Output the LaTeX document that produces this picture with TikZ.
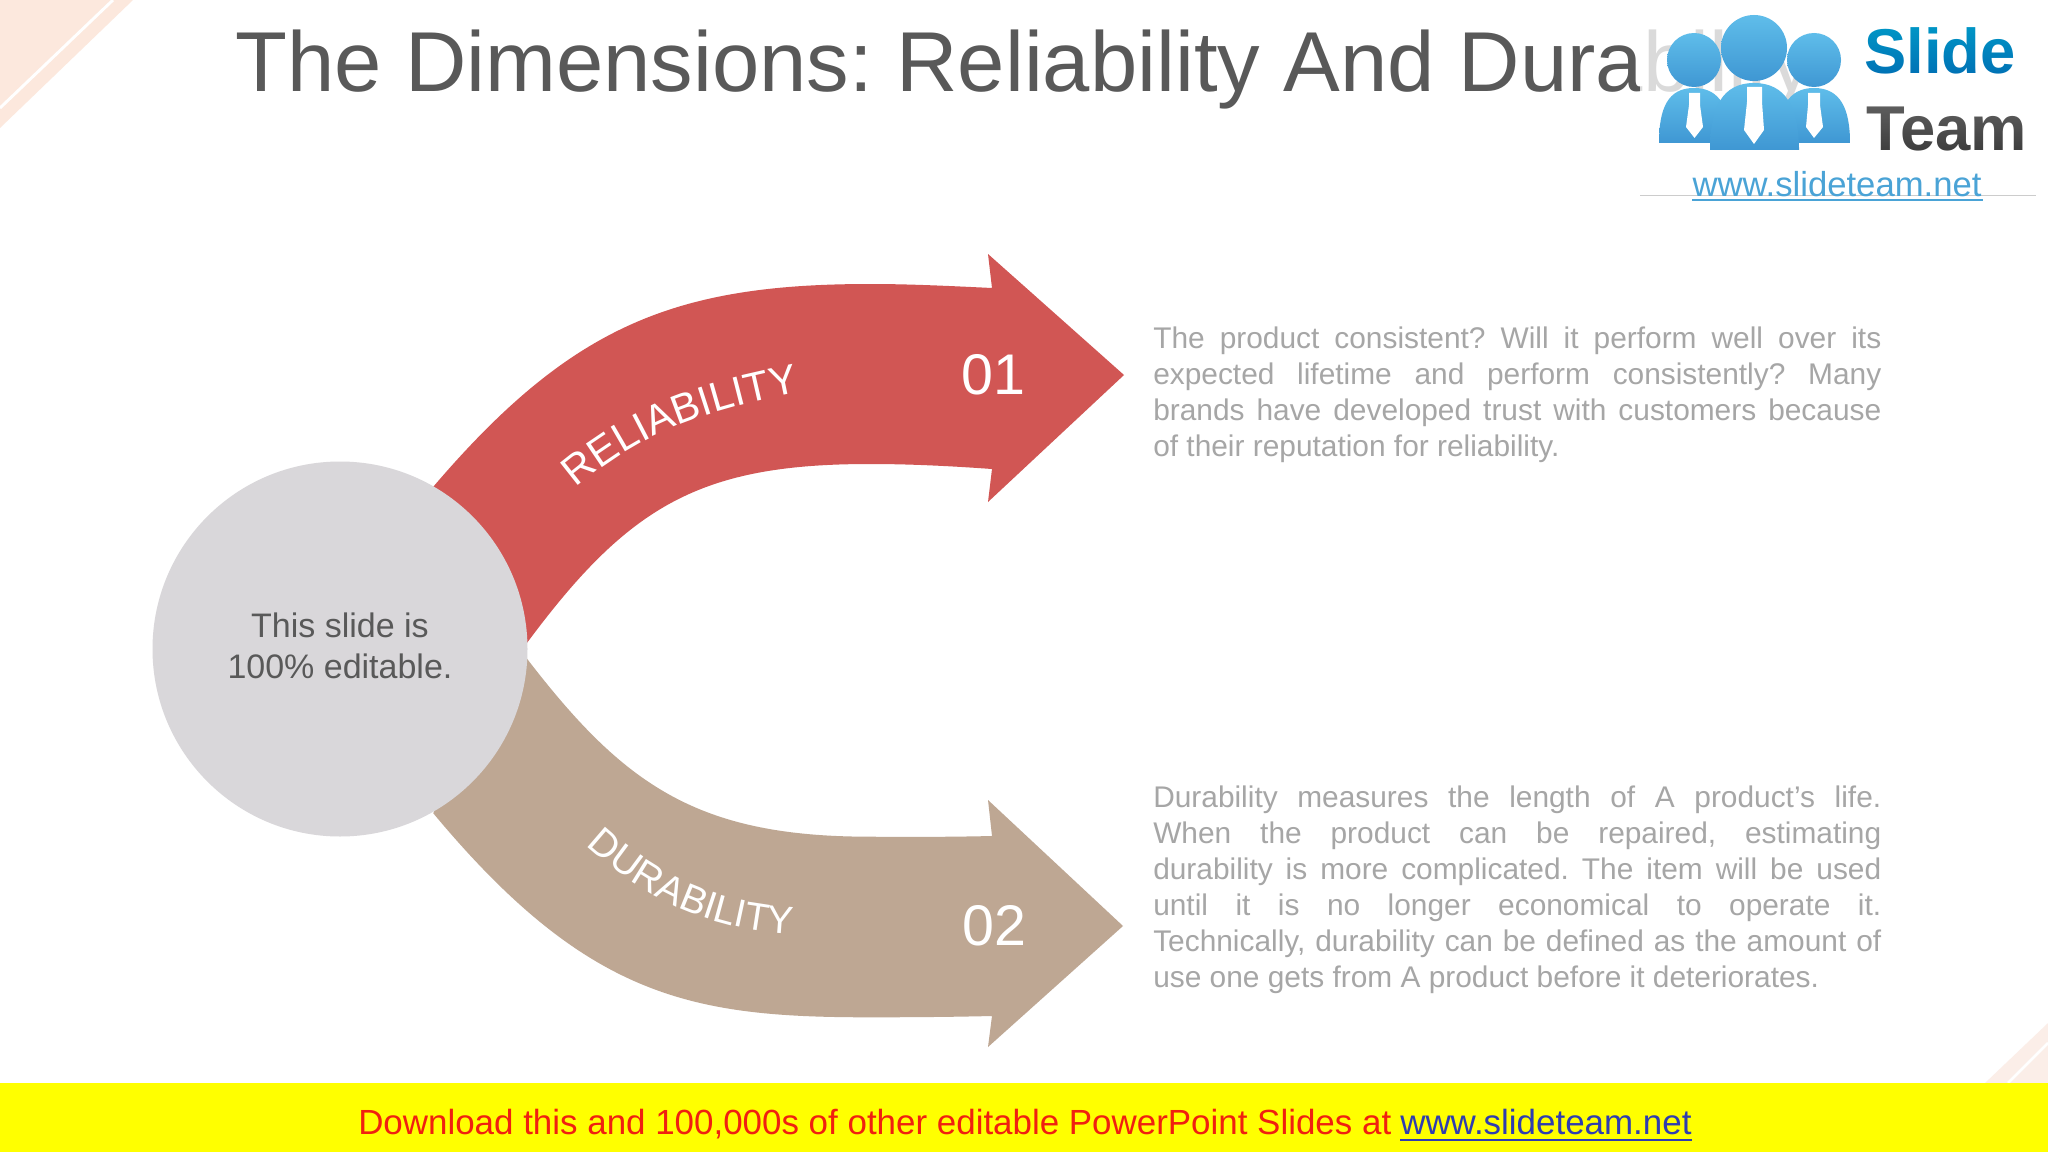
\documentclass[tikz,border=0pt]{standalone}
\usepackage{fontspec}
\usetikzlibrary{decorations.text}
\setmainfont{Liberation Sans}
\frenchspacing
\definecolor{arrowred}{HTML}{D15654}
\definecolor{arrowbrown}{HTML}{BEA793}
\definecolor{hubgrey}{HTML}{D9D7DA}
\definecolor{titlegrey}{HTML}{595959}
\definecolor{bodygrey}{HTML}{A6A6A6}
\definecolor{peach}{HTML}{FCE8DD}
\definecolor{peachb}{HTML}{FBEEE8}
\definecolor{logolight}{HTML}{5FBDEA}
\definecolor{logodark}{HTML}{3F97D3}
\definecolor{slideblue}{HTML}{0070B4}
\definecolor{slidelift}{HTML}{004840}
\definecolor{teamgrey}{HTML}{3C3C3C}
\definecolor{teamlift}{HTML}{303030}
\definecolor{urlblue}{HTML}{4AA3D6}
\definecolor{footyellow}{HTML}{FFFF00}
\definecolor{footred}{HTML}{F02010}
\definecolor{footblue}{HTML}{2F3DB0}
\newcommand{\fs}[2]{\fontsize{#1pt}{#2pt}\selectfont}
\newcommand{\jl}[1]{\makebox[546pt][s]{#1}}
\tikzset{
  bodytext/.style={anchor=north west,inner sep=0pt,align=left,text=bodygrey,font=\fs{22.4}{27}},
  person/.style={top color=logolight,bottom color=logodark,draw=none},
  tie/.style={fill=white,draw=none},
  numlabel/.style={text=white,inner sep=0pt,font=\fs{43}{50}},
}
\begin{document}
\begin{tikzpicture}[x=0.75pt,y=-0.75pt]
\useasboundingbox (0,0) rectangle (2048,1152);
\fill[white] (0,0) rectangle (2048,1152);
% corners
\fill[peach] (0,0) -- (133,0) -- (0,128) -- cycle;
\draw[white,line width=2.2pt] (113,0) -- (0,108);
\fill[peachb] (2048,1023) -- (1985,1083) -- (2048,1083) -- cycle;
\draw[white,line width=2pt] (2048,1043) -- (2008,1083);
% title
\node[anchor=base west,inner sep=0pt,text=titlegrey,font=\fs{63.76}{70}] (title) at (235,92) {The Dimensions: Reliability And Durability};
% arrows
\fill[arrowred] (433.3,486.7) .. controls (571,325.7) and (674.3,284) .. (870,284)
  .. controls (910,284) and (950,286) .. (992,288)
  -- (988,254) -- (1124,375) -- (988,502) -- (992,469)
  .. controls (950,466) and (910,464) .. (870,464)
  .. controls (700.7,464) and (629.3,504.7) .. (526.7,643.3)
  -- (480,640) -- cycle;
\fill[arrowbrown] (526.7,658.3) .. controls (624,785) and (697,836.7) .. (870,836.7)
  .. controls (910,837) and (950,837) .. (992,836)
  -- (988,800) -- (1123,926) -- (988,1047) -- (992,1016)
  .. controls (950,1017) and (910,1017.3) .. (870,1017.3)
  .. controls (693,1017.3) and (588,999) .. (433.3,813.3)
  -- (480,700) -- cycle;
% hub
\node[circle,fill=hubgrey,minimum size=281.25pt,inner sep=0pt] (hub) at (340,649) {};
\node[inner sep=0pt,align=center,text=titlegrey,font=\fs{25.5}{31}] (hubtext) at (340,646) {This slide is\\100\% editable.};
% arrow labels, set along the arc they follow in the slide
\path[decorate,decoration={text along path,text={|\fs{31}{36}\color{white}|RELIABILITY}}]
  (576,488) .. controls (651,424) and (725,407) .. (800,392) -- (830,386);
\path[decorate,decoration={text along path,text={|\fs{29.3}{34}\color{white}|DURABILITY}}]
  (586,845) .. controls (648,902) and (712,928) .. (780,933) -- (815,936);
\node[numlabel] (n1) at (993,375) {01};
\node[numlabel] (n2) at (994,926) {02};
% body text
\node[bodytext] (p1) at (1153,327) {\jl{The product consistent? Will it perform well over its}\\\jl{expected lifetime and perform consistently? Many}\\\jl{brands have developed trust with customers because}\\of their reputation for reliability.};
\node[bodytext] (p2) at (1153,786) {\jl{Durability measures the length of A product’s life.}\\\jl{When the product can be repaired, estimating}\\\jl{durability is more complicated. The item will be used}\\\jl{until it is no longer economical to operate it.}\\\jl{Technically, durability can be defined as the amount of}\\use one gets from A product before it deteriorates.};
% logo
\fill[white,opacity=.78] (1640,0) rectangle (2036,195);
\draw[black!20,line width=.6pt] (1640,195) -- (2036,195);
\shade[person] (1659,143) .. controls (1659,108) and (1668,88) .. (1694,88) .. controls (1720,88) and (1730,108) .. (1730,143) -- cycle;
\shade[person] (1778,143) .. controls (1778,108) and (1788,88) .. (1814,88) .. controls (1840,88) and (1850,108) .. (1850,143) -- cycle;
\shade[person] (1710,150) .. controls (1710,108) and (1722,83) .. (1754,83) .. controls (1786,83) and (1799,108) .. (1799,150) -- cycle;
\shade[person] (1694,60) circle (27);
\shade[person] (1814,60) circle (27);
\shade[person] (1754,48) circle (33);
\fill[tie] (1689,93) -- (1700,93) -- (1700,105) -- (1703,127) -- (1694.5,138) -- (1686,127) -- (1689,105) -- cycle;
\fill[tie] (1747,87) -- (1762,87) -- (1762,102) -- (1764,130) -- (1754,144) -- (1744,130) -- (1747,102) -- cycle;
\fill[tie] (1808,93) -- (1820,93) -- (1820,105) -- (1823,127) -- (1814,138) -- (1806,127) -- (1808,105) -- cycle;
\node[anchor=base west,inner sep=0pt,text=slideblue,font=\bfseries\fs{47.5}{50}] (slide) at (1864,74) {Slide};
\node[anchor=base west,inner sep=0pt,text=teamgrey,font=\bfseries\fs{47.5}{50}] (team) at (1866,151) {Team};
\begin{scope}[blend mode=screen]
\shade[top color=slidelift,bottom color=black] (1860,22) rectangle (2030,76);
\shade[top color=teamlift,bottom color=black] (1860,100) rectangle (2036,153);
\end{scope}
\node[anchor=base,inner sep=0pt,text=urlblue,font=\fs{26}{30}] (url) at (1837,196) {www.slideteam.net};
\draw[urlblue,line width=1.6pt] (1692,200) -- (1983,200);
% footer
\fill[footyellow] (0,1083) rectangle (2048,1152);
\node[anchor=base west,inner sep=0pt,text=footred,font=\fs{26.2}{30}] (foot) at (358,1134.5) {Download this and 100,000s of other editable PowerPoint Slides at };
\node[anchor=base west,inner sep=0pt,text=footblue,font=\fs{26.2}{30}] (link) at (1400,1134.5) {www.slideteam.net};
\draw[footblue,line width=1.3pt] ([yshift=-4pt]link.base west) -- ([yshift=-4pt]link.base east);
\end{tikzpicture}
\end{document}
